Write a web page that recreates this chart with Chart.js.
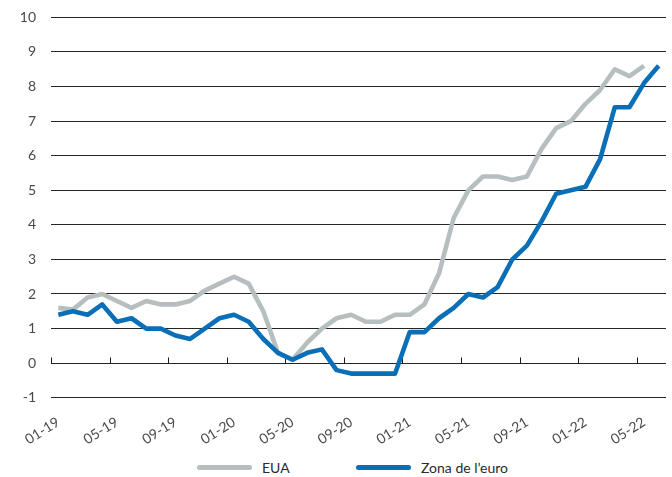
<!DOCTYPE html>
<html>
<head>
<meta charset="utf-8">
<script src="https://cdn.jsdelivr.net/npm/chart.js@4.4.1/dist/chart.umd.min.js"></script>
<style>
    html, body {
        margin: 0;
        padding: 0;
        background: #ffffff;
        overflow: hidden;
    }
    .wrap {
        position: relative;
        width: 672px;
        height: 477px;
        overflow: hidden;
    }
    .chart-box {
        position: absolute;
        left: 0;
        top: -6px;
        width: 672px;
        height: 462px;
    }
    .legend {
        position: absolute;
        left: 197px;
        top: 459px;
        display: flex;
        align-items: center;
        font-family: Lato, "Open Sans", sans-serif;
        font-size: 14px;
        color: #2b2b2b;
    }
    .legend-item {
        display: flex;
        align-items: center;
    }
    .legend-item:first-child {
        width: 159px;
    }
    .legend-line {
        display: inline-block;
        width: 55px;
        height: 5px;
        border-radius: 3px;
        margin-right: 10px;
    }
</style>
</head>
<body>
<div class="wrap">
    <div class="chart-box"><canvas id="inflChart"></canvas></div>
    <div class="legend" id="legend"></div>
</div>

<script>
// ================= DATA =================

const months = [
    "01-19", "02-19", "03-19", "04-19", "05-19", "06-19", "07-19", "08-19", "09-19", "10-19", "11-19", "12-19",
    "01-20", "02-20", "03-20", "04-20", "05-20", "06-20", "07-20", "08-20", "09-20", "10-20", "11-20", "12-20",
    "01-21", "02-21", "03-21", "04-21", "05-21", "06-21", "07-21", "08-21", "09-21", "10-21", "11-21", "12-21",
    "01-22", "02-22", "03-22", "04-22", "05-22", "06-22"
];

const seriesNames = ["EUA", "Zona de l’euro"];

const eua = [
    1.6, 1.55, 1.9, 2.0, 1.8, 1.6, 1.8, 1.7, 1.7, 1.8, 2.1, 2.3,
    2.5, 2.3, 1.5, 0.3, 0.1, 0.6, 1.0, 1.3, 1.4, 1.2, 1.2, 1.4,
    1.4, 1.7, 2.6, 4.2, 5.0, 5.4, 5.4, 5.3, 5.4, 6.2, 6.8, 7.0,
    7.5, 7.9, 8.5, 8.3, 8.6, null
];

const zonaEuro = [
    1.4, 1.5, 1.4, 1.7, 1.2, 1.3, 1.0, 1.0, 0.8, 0.7, 1.0, 1.3,
    1.4, 1.2, 0.7, 0.3, 0.1, 0.3, 0.4, -0.2, -0.3, -0.3, -0.3, -0.3,
    0.9, 0.9, 1.3, 1.6, 2.0, 1.9, 2.2, 3.0, 3.4, 4.1, 4.9, 5.0,
    5.1, 5.9, 7.4, 7.4, 8.1, 8.6
];

const yTicks = [-1, 0, 1, 2, 3, 4, 5, 6, 7, 8, 9, 10];

const GREY = "#b6bec0";
const BLUE = "#0a6fb6";
const TEXT = "#4a4a4a";

// ================= ZERO LINE TICKS =================
// small marks on the 0 line, every 4 months, on the category boundaries

const zeroTicks = {
    id: "zeroTicks",
    beforeDatasetsDraw(chart) {
        const x = chart.scales.x;
        const y = chart.scales.y;
        const ctx = chart.ctx;
        const half = (x.getPixelForValue(1) - x.getPixelForValue(0)) / 2;
        const y0 = Math.round(y.getPixelForValue(0)) + 0.5;

        ctx.save();
        ctx.strokeStyle = "#1a1a1a";
        ctx.lineWidth = 1;
        ctx.beginPath();
        months.forEach((m, i) => {
            if (i % 4 !== 0) return;
            const px = Math.round(x.getPixelForValue(i) - half) + 0.5;
            ctx.moveTo(px, y0);
            ctx.lineTo(px, y0 - 6);
        });
        ctx.stroke();
        ctx.restore();
    }
};

// ================= CHART =================

const ctx = document.getElementById("inflChart").getContext("2d");

const chart = new Chart(ctx, {
    type: "line",
    data: {
        labels: months,
        datasets: [
            {
                label: seriesNames[0],
                data: eua,
                borderColor: GREY,
                backgroundColor: GREY,
                order: 1
            },
            {
                label: seriesNames[1],
                data: zonaEuro,
                borderColor: BLUE,
                backgroundColor: BLUE,
                order: 0
            }
        ]
    },
    options: {
        responsive: true,
        maintainAspectRatio: false,
        animation: false,
        layout: {
            autoPadding: false,
            padding: { top: 9, right: 6, left: 0, bottom: 0 }
        },
        elements: {
            line: {
                borderWidth: 4.6,
                tension: 0,
                borderJoinStyle: "round",
                borderCapStyle: "butt"
            },
            point: { radius: 0, hoverRadius: 0 }
        },
        plugins: {
            legend: { display: false },
            tooltip: { enabled: false }
        },
        scales: {
            x: {
                offset: true,
                grid: { display: false, offset: true },
                border: { display: false },
                afterFit: (scale) => {
                    // rotated labels should not push the plot inwards
                    scale.paddingLeft = 0;
                    scale.paddingRight = 0;
                },
                ticks: {
                    autoSkip: false,
                    maxRotation: 32,
                    minRotation: 32,
                    padding: 8,
                    color: TEXT,
                    font: { family: "Lato, 'Open Sans', sans-serif", size: 14 },
                    callback: (v, i) => (i % 4 === 0 ? months[i] : "")
                }
            },
            y: {
                min: -1,
                max: 10,
                afterBuildTicks: (axis) => {
                    axis.ticks = yTicks.map(v => ({ value: v }));
                },
                afterFit: (scale) => {
                    scale.width = 51;
                },
                grid: {
                    color: "#262626",
                    lineWidth: 1.1,
                    drawTicks: false
                },
                border: { display: false },
                ticks: {
                    padding: 15,
                    color: TEXT,
                    font: { family: "Lato, 'Open Sans', sans-serif", size: 14 }
                }
            }
        }
    },
    plugins: [zeroTicks]
});

// ================= LEGEND =================

const legendBox = document.getElementById("legend");

chart.data.datasets.forEach(ds => {
    const item = document.createElement("span");
    item.className = "legend-item";

    const line = document.createElement("span");
    line.className = "legend-line";
    line.style.background = ds.borderColor;

    const label = document.createElement("span");
    label.textContent = ds.label;

    item.appendChild(line);
    item.appendChild(label);
    legendBox.appendChild(item);
});
</script>
</body>
</html>
